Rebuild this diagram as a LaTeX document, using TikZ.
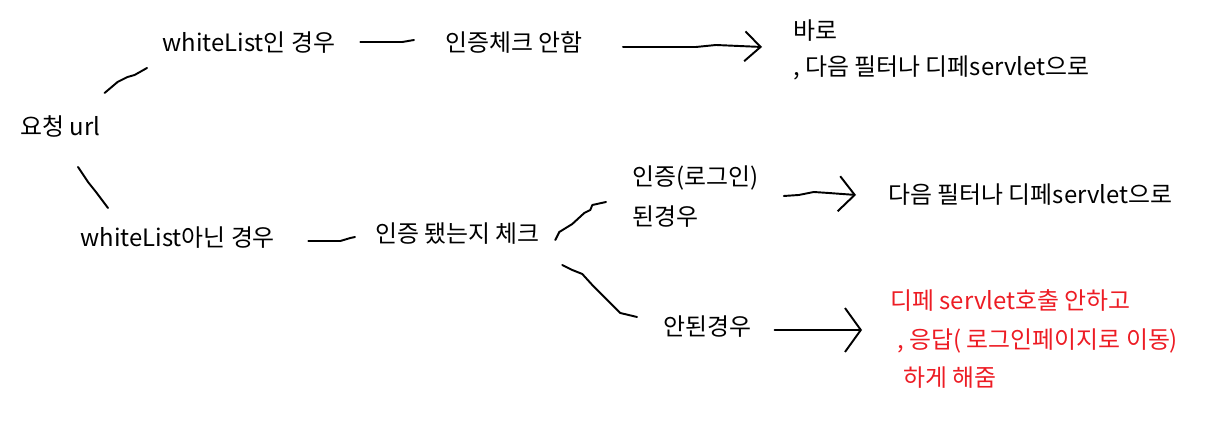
\documentclass[tikz,border=0pt]{standalone}
\usepackage{fontspec}
\setmainfont{Noto Sans CJK KR}
\usepackage{tikz}
\usetikzlibrary{arrows.meta}
\definecolor{paintred}{RGB}{237,28,36}

\begin{document}
\begin{tikzpicture}[
  x=0.02cm, y=-0.02cm,
  every node/.style={font=\fontsize{13.6}{20}\selectfont, inner sep=0pt},
  lbl/.style={anchor=west},
  blk/.style={anchor=west, align=left},
  hand/.style={line width=1.1pt, line join=round, line cap=round},
  go/.style={hand, -{Straight Barb[length=9pt, width=#1, line width=1.1pt]}},
]
  \useasboundingbox (0,0) rectangle (1216,421);

  % Request and the two cases
  \node[lbl] (url) at (20,126) {요청 url};
  \node[lbl] (wl)  at (162,43) {whiteList인 경우};
  \node[lbl] (nwl) at (80,238) {whiteList아닌 경우};

  % whiteList branch
  \node[lbl] (skip) at (445,42) {인증체크 안함};
  \node[blk, font=\fontsize{13.6}{20.4}\selectfont] (pass) at (793,50)
    {바로\\, 다음 필터나 디페servlet으로};

  % not whiteList branch
  \node[lbl] (chk) at (375,234) {인증 됐는지 체크};
  \node[blk, font=\fontsize{13.6}{22.7}\selectfont] (ok) at (632,197)
    {인증(로그인)\\된경우};
  \node[lbl] (okgo) at (888,195) {다음 필터나 디페servlet으로};
  \node[lbl] (ng) at (663,327) {안된경우};
  \node[blk, text=paintred, font=\fontsize{13.6}{22}\selectfont] (ngres) at (890,339)
    {디페 servlet호출 안하고\\\hspace*{4pt}, 응답( 로그인페이지로 이동)\\\hspace*{7.4pt}하게 해줌};

  % Connectors
  \draw[hand] ([shift={(4,-33)}]url.east) -- ++(13,-11) -- ++(10,-5) -- ++(7,-2)
    -- ([shift={(-15,25)}]wl.west);
  \draw[hand] ([shift={(58,41)}]url.west) -- ++(10,15) -- ++(8,10)
    -- ([shift={(28,-30)}]nwl.west);
  \draw[hand] ([shift={(25,-1)}]wl.east) -- ++(42,0) -- ([shift={(-31,-2)}]skip.west);
  \draw[go=17pt] ([shift={(40,5)}]skip.east) -- ++(73,0) -- ++(20,-2)
    -- ([shift={(-31,-3)}]pass.west);
  \draw[hand] ([shift={(33,3)}]nwl.east) -- ++(32,0) -- ++(10,-3)
    -- ([shift={(-20,3)}]chk.west);
  \draw[hand] ([shift={(15,6)}]chk.east) -- ++(4,-8) -- ++(13,-8) -- ++(12,-11)
    -- ++(6,-3) -- ++(2,-5) -- ([shift={(-26,5)}]ok.west);
  \draw[hand] ([shift={(22,31)}]chk.east) -- ++(10,5) -- ++(10,4) -- ++(10,11)
    -- ++(10,10) -- ++(10,10) -- ++(8,8) -- ([shift={(-26,-10)}]ng.west);
  \draw[go=20pt] ([shift={(25,-1)}]ok.east) -- ++(15,-1) -- ++(15,-3) -- ++(15,1)
    -- ([shift={(-32,0)}]okgo.west);
  \draw[go=25pt] ([shift={(23,3)}]ng.east) -- ++(60,0) -- ([shift={(-28,-9)}]ngres.west);
\end{tikzpicture}
\end{document}
